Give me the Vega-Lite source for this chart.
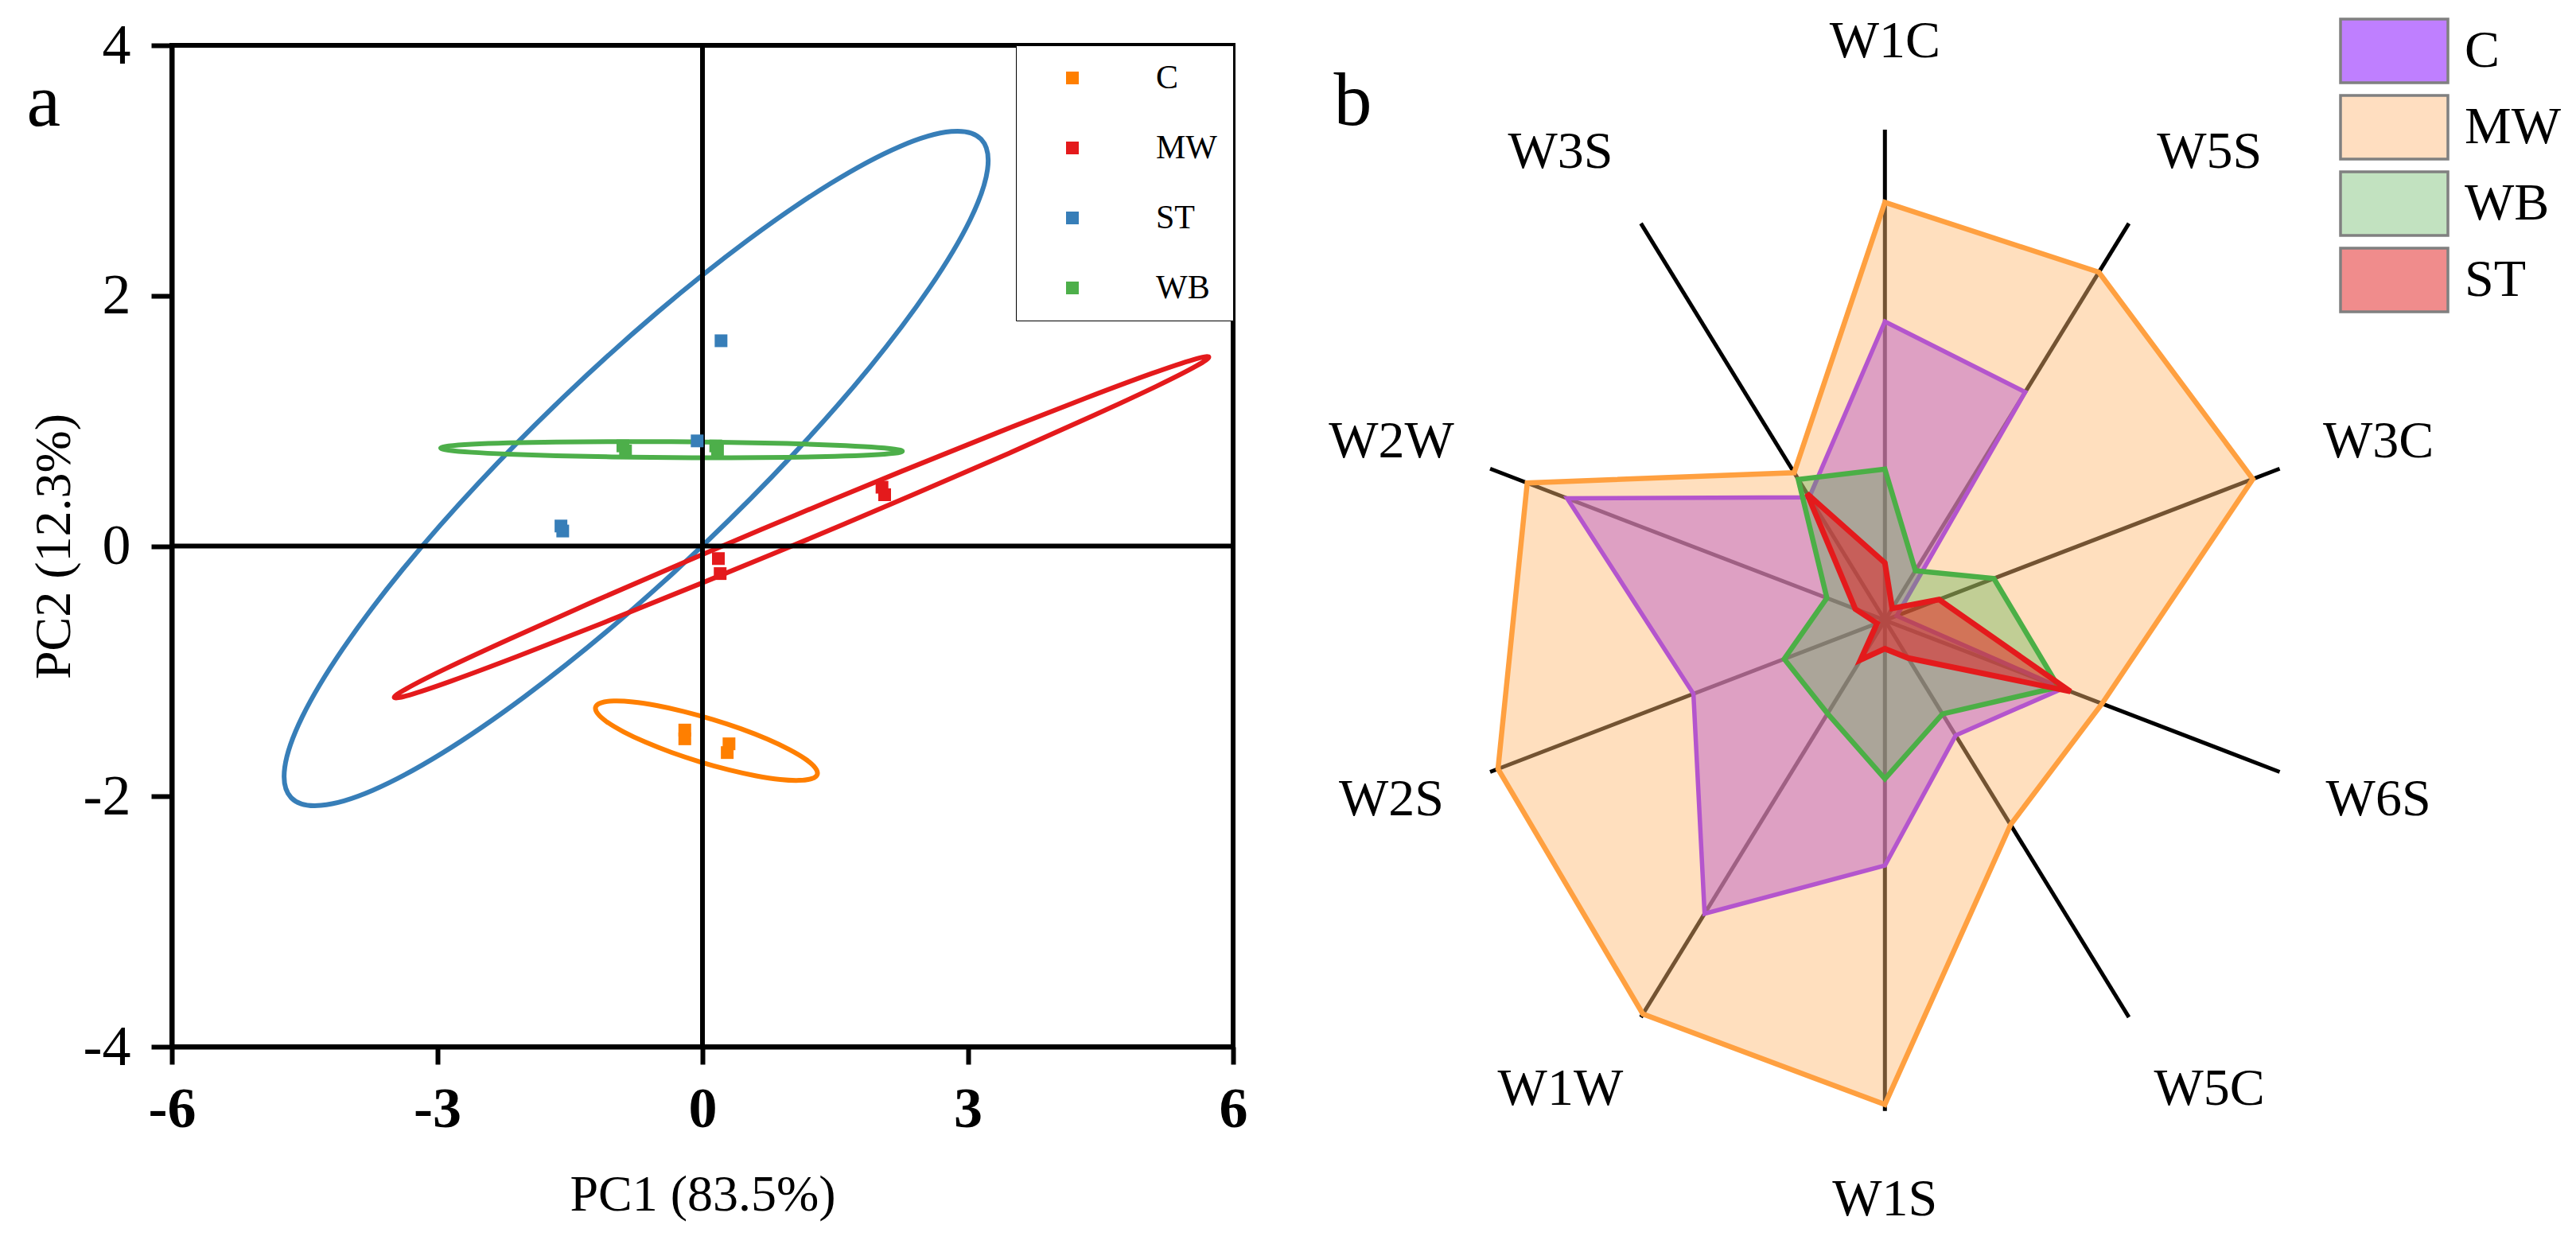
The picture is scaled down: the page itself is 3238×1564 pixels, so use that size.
{
  "$schema": "https://vega.github.io/schema/vega-lite/v6.json",
  "background": "white",
  "padding": {"left": 30, "top": 18, "right": 0, "bottom": 0},
  "spacing": 99,
  "config": {
    "font": "Liberation Serif",
    "view": {"stroke": null},
    "axis": {"labelFont": "Liberation Serif", "titleFont": "Liberation Serif", "labelColor": "black", "titleColor": "black"},
    "legend": {"labelFont": "Liberation Serif", "labelColor": "black"},
    "title": {"font": "Liberation Serif", "fontWeight": "normal", "color": "black"}
  },
  "resolve": {"scale": {"x": "independent", "y": "independent", "color": "independent", "fill": "independent"}, "legend": {"color": "independent", "fill": "independent"}},
  "datasets": {
    "pca_points": [
      {"group": "C", "pc1": -0.2, "pc2": -1.47}, {"group": "C", "pc1": -0.2, "pc2": -1.54}, {"group": "C", "pc1": 0.3, "pc2": -1.58}, {"group": "C", "pc1": 0.28, "pc2": -1.65},
      {"group": "MW", "pc1": 2.03, "pc2": 0.47}, {"group": "MW", "pc1": 2.06, "pc2": 0.41}, {"group": "MW", "pc1": 0.18, "pc2": -0.1}, {"group": "MW", "pc1": 0.2, "pc2": -0.22},
      {"group": "ST", "pc1": 0.21, "pc2": 1.64}, {"group": "ST", "pc1": -1.58, "pc2": 0.12}, {"group": "ST", "pc1": -1.6, "pc2": 0.16}, {"group": "ST", "pc1": -0.06, "pc2": 0.84},
      {"group": "WB", "pc1": -0.9, "pc2": 0.8}, {"group": "WB", "pc1": -0.87, "pc2": 0.76}, {"group": "WB", "pc1": 0.15, "pc2": 0.8}, {"group": "WB", "pc1": 0.17, "pc2": 0.76}
    ],
    "pca_ellipses": [
      {"group": "ST", "i": 0, "pc1": 3.151, "pc2": 3.25}, {"group": "ST", "i": 1, "pc1": 2.813, "pc2": 3.312}, {"group": "ST", "i": 2, "pc1": 2.231, "pc2": 3.192}, {"group": "ST", "i": 3, "pc1": 1.447, "pc2": 2.896},
      {"group": "ST", "i": 4, "pc1": 0.513, "pc2": 2.444}, {"group": "ST", "i": 5, "pc1": -0.507, "pc2": 1.869}, {"group": "ST", "i": 6, "pc1": -1.544, "pc2": 1.208}, {"group": "ST", "i": 7, "pc1": -2.527, "pc2": 0.507},
      {"group": "ST", "i": 8, "pc1": -3.389, "pc2": -0.186}, {"group": "ST", "i": 9, "pc1": -4.069, "pc2": -0.824}, {"group": "ST", "i": 10, "pc1": -4.525, "pc2": -1.364}, {"group": "ST", "i": 11, "pc1": -4.723, "pc2": -1.768},
      {"group": "ST", "i": 12, "pc1": -4.651, "pc2": -2.01}, {"group": "ST", "i": 13, "pc1": -4.313, "pc2": -2.072}, {"group": "ST", "i": 14, "pc1": -3.731, "pc2": -1.952}, {"group": "ST", "i": 15, "pc1": -2.947, "pc2": -1.656},
      {"group": "ST", "i": 16, "pc1": -2.013, "pc2": -1.204}, {"group": "ST", "i": 17, "pc1": -0.993, "pc2": -0.629}, {"group": "ST", "i": 18, "pc1": 0.044, "pc2": 0.032}, {"group": "ST", "i": 19, "pc1": 1.027, "pc2": 0.733},
      {"group": "ST", "i": 20, "pc1": 1.889, "pc2": 1.426}, {"group": "ST", "i": 21, "pc1": 2.569, "pc2": 2.064}, {"group": "ST", "i": 22, "pc1": 3.025, "pc2": 2.604}, {"group": "ST", "i": 23, "pc1": 3.223, "pc2": 3.008},
      {"group": "MW", "i": 0, "pc1": 5.725, "pc2": 1.51}, {"group": "MW", "i": 1, "pc1": 5.553, "pc2": 1.49}, {"group": "MW", "i": 2, "pc1": 5.078, "pc2": 1.378}, {"group": "MW", "i": 3, "pc1": 4.334, "pc2": 1.182},
      {"group": "MW", "i": 4, "pc1": 3.372, "pc2": 0.916}, {"group": "MW", "i": 5, "pc1": 2.255, "pc2": 0.598}, {"group": "MW", "i": 6, "pc1": 1.061, "pc2": 0.25}, {"group": "MW", "i": 7, "pc1": -0.129, "pc2": -0.106},
      {"group": "MW", "i": 8, "pc1": -1.234, "pc2": -0.444}, {"group": "MW", "i": 9, "pc1": -2.178, "pc2": -0.742}, {"group": "MW", "i": 10, "pc1": -2.898, "pc2": -0.978}, {"group": "MW", "i": 11, "pc1": -3.343, "pc2": -1.138},
      {"group": "MW", "i": 12, "pc1": -3.485, "pc2": -1.21}, {"group": "MW", "i": 13, "pc1": -3.313, "pc2": -1.19}, {"group": "MW", "i": 14, "pc1": -2.838, "pc2": -1.078}, {"group": "MW", "i": 15, "pc1": -2.094, "pc2": -0.882},
      {"group": "MW", "i": 16, "pc1": -1.132, "pc2": -0.616}, {"group": "MW", "i": 17, "pc1": -0.015, "pc2": -0.298}, {"group": "MW", "i": 18, "pc1": 1.179, "pc2": 0.05}, {"group": "MW", "i": 19, "pc1": 2.369, "pc2": 0.406},
      {"group": "MW", "i": 20, "pc1": 3.474, "pc2": 0.744}, {"group": "MW", "i": 21, "pc1": 4.418, "pc2": 1.042}, {"group": "MW", "i": 22, "pc1": 5.138, "pc2": 1.278}, {"group": "MW", "i": 23, "pc1": 5.583, "pc2": 1.438},
      {"group": "WB", "i": 0, "pc1": 2.26, "pc2": 0.7575}, {"group": "WB", "i": 1, "pc1": 2.171, "pc2": 0.774}, {"group": "WB", "i": 2, "pc1": 1.91, "pc2": 0.791}, {"group": "WB", "i": 3, "pc1": 1.496, "pc2": 0.806},
      {"group": "WB", "i": 4, "pc1": 0.955, "pc2": 0.819}, {"group": "WB", "i": 5, "pc1": 0.325, "pc2": 0.828}, {"group": "WB", "i": 6, "pc1": -0.35, "pc2": 0.8335}, {"group": "WB", "i": 7, "pc1": -1.025, "pc2": 0.8345},
      {"group": "WB", "i": 8, "pc1": -1.655, "pc2": 0.831}, {"group": "WB", "i": 9, "pc1": -2.196, "pc2": 0.824}, {"group": "WB", "i": 10, "pc1": -2.61, "pc2": 0.813}, {"group": "WB", "i": 11, "pc1": -2.871, "pc2": 0.7985},
      {"group": "WB", "i": 12, "pc1": -2.96, "pc2": 0.7825}, {"group": "WB", "i": 13, "pc1": -2.871, "pc2": 0.766}, {"group": "WB", "i": 14, "pc1": -2.61, "pc2": 0.749}, {"group": "WB", "i": 15, "pc1": -2.196, "pc2": 0.734},
      {"group": "WB", "i": 16, "pc1": -1.655, "pc2": 0.7207}, {"group": "WB", "i": 17, "pc1": -1.025, "pc2": 0.712}, {"group": "WB", "i": 18, "pc1": -0.35, "pc2": 0.7065}, {"group": "WB", "i": 19, "pc1": 0.325, "pc2": 0.7055},
      {"group": "WB", "i": 20, "pc1": 0.955, "pc2": 0.709}, {"group": "WB", "i": 21, "pc1": 1.496, "pc2": 0.716}, {"group": "WB", "i": 22, "pc1": 1.91, "pc2": 0.727}, {"group": "WB", "i": 23, "pc1": 2.171, "pc2": 0.7414},
      {"group": "C", "i": 0, "pc1": 1.298, "pc2": -1.824}, {"group": "C", "i": 1, "pc1": 1.274, "pc2": -1.771}, {"group": "C", "i": 2, "pc1": 1.166, "pc2": -1.703}, {"group": "C", "i": 3, "pc1": 0.982, "pc2": -1.626},
      {"group": "C", "i": 4, "pc1": 0.734, "pc2": -1.543}, {"group": "C", "i": 5, "pc1": 0.439, "pc2": -1.461}, {"group": "C", "i": 6, "pc1": 0.118, "pc2": -1.386}, {"group": "C", "i": 7, "pc1": -0.209, "pc2": -1.322},
      {"group": "C", "i": 8, "pc1": -0.518, "pc2": -1.274}, {"group": "C", "i": 9, "pc1": -0.789, "pc2": -1.245}, {"group": "C", "i": 10, "pc1": -1.004, "pc2": -1.238}, {"group": "C", "i": 11, "pc1": -1.146, "pc2": -1.252},
      {"group": "C", "i": 12, "pc1": -1.208, "pc2": -1.286}, {"group": "C", "i": 13, "pc1": -1.184, "pc2": -1.339}, {"group": "C", "i": 14, "pc1": -1.076, "pc2": -1.407}, {"group": "C", "i": 15, "pc1": -0.892, "pc2": -1.484},
      {"group": "C", "i": 16, "pc1": -0.644, "pc2": -1.567}, {"group": "C", "i": 17, "pc1": -0.349, "pc2": -1.649}, {"group": "C", "i": 18, "pc1": -0.028, "pc2": -1.724}, {"group": "C", "i": 19, "pc1": 0.299, "pc2": -1.788},
      {"group": "C", "i": 20, "pc1": 0.608, "pc2": -1.836}, {"group": "C", "i": 21, "pc1": 0.879, "pc2": -1.865}, {"group": "C", "i": 22, "pc1": 1.094, "pc2": -1.872}, {"group": "C", "i": 23, "pc1": 1.236, "pc2": -1.858}
    ],
    "radar_axes": [
      {"a": "W1C", "k": 0}, {"a": "W5S", "k": 1}, {"a": "W3C", "k": 2}, {"a": "W6S", "k": 3}, {"a": "W5C", "k": 4},
      {"a": "W1S", "k": 5}, {"a": "W1W", "k": 6}, {"a": "W2S", "k": 7}, {"a": "W2W", "k": 8}, {"a": "W3S", "k": 9}
    ],
    "radar": [
      {"g": "MW", "a": "W1C", "k": 0, "v": 0.852}, {"g": "MW", "a": "W5S", "k": 1, "v": 0.877}, {"g": "MW", "a": "W3C", "k": 2, "v": 0.932}, {"g": "MW", "a": "W6S", "k": 3, "v": 0.55}, {"g": "MW", "a": "W5C", "k": 4, "v": 0.515},
      {"g": "MW", "a": "W1S", "k": 5, "v": 0.987}, {"g": "MW", "a": "W1W", "k": 6, "v": 0.992}, {"g": "MW", "a": "W2S", "k": 7, "v": 0.98}, {"g": "MW", "a": "W2W", "k": 8, "v": 0.906}, {"g": "MW", "a": "W3S", "k": 9, "v": 0.372},
      {"g": "C", "a": "W1C", "k": 0, "v": 0.609}, {"g": "C", "a": "W5S", "k": 1, "v": 0.575}, {"g": "C", "a": "W3C", "k": 2, "v": 0.03}, {"g": "C", "a": "W6S", "k": 3, "v": 0.45}, {"g": "C", "a": "W5C", "k": 4, "v": 0.29},
      {"g": "C", "a": "W1S", "k": 5, "v": 0.5}, {"g": "C", "a": "W1W", "k": 6, "v": 0.739}, {"g": "C", "a": "W2S", "k": 7, "v": 0.485}, {"g": "C", "a": "W2W", "k": 8, "v": 0.805}, {"g": "C", "a": "W3S", "k": 9, "v": 0.31},
      {"g": "WB", "a": "W1C", "k": 0, "v": 0.308}, {"g": "WB", "a": "W5S", "k": 1, "v": 0.125}, {"g": "WB", "a": "W3C", "k": 2, "v": 0.276}, {"g": "WB", "a": "W6S", "k": 3, "v": 0.44}, {"g": "WB", "a": "W5C", "k": 4, "v": 0.236},
      {"g": "WB", "a": "W1S", "k": 5, "v": 0.323}, {"g": "WB", "a": "W1W", "k": 6, "v": 0.235}, {"g": "WB", "a": "W2S", "k": 7, "v": 0.255}, {"g": "WB", "a": "W2W", "k": 8, "v": 0.147}, {"g": "WB", "a": "W3S", "k": 9, "v": 0.355},
      {"g": "ST", "a": "W1C", "k": 0, "v": 0.117}, {"g": "ST", "a": "W5S", "k": 1, "v": 0.03}, {"g": "ST", "a": "W3C", "k": 2, "v": 0.137}, {"g": "ST", "a": "W6S", "k": 3, "v": 0.47}, {"g": "ST", "a": "W5C", "k": 4, "v": 0.095},
      {"g": "ST", "a": "W1S", "k": 5, "v": 0.058}, {"g": "ST", "a": "W1W", "k": 6, "v": 0.1}, {"g": "ST", "a": "W2S", "k": 7, "v": 0.02}, {"g": "ST", "a": "W2W", "k": 8, "v": 0.075}, {"g": "ST", "a": "W3S", "k": 9, "v": 0.319}
    ]
  },
  "hconcat": [
    {
      "width": 1334,
      "height": 1259,
      "view": {"stroke": "black", "strokeWidth": 6},
      "layer": [
        {
          "data": {"name": "pca_ellipses"},
          "mark": {"type": "line", "interpolate": "cardinal-closed", "strokeWidth": 6},
          "encoding": {
            "x": {"field": "pc1", "type": "quantitative", "scale": {"domain": [-6, 6], "nice": false, "zero": false},
              "axis": {"values": [-6, -3, 0, 3, 6], "labelExpr": "'' + datum.value", "title": "PC1 (83.5%)", "titleFontSize": 64, "titleFontWeight": "normal", "titlePadding": 40,
                "labelFontSize": 72, "labelFontWeight": "bold", "labelPadding": 21, "labelFlush": false, "labelOverlap": false,
                "tickSize": 22, "tickWidth": 6, "tickColor": "black", "domainColor": "black", "domainWidth": 6, "grid": false}},
            "y": {"field": "pc2", "type": "quantitative", "scale": {"domain": [-4, 4], "nice": false, "zero": false},
              "axis": {"values": [-4, -2, 0, 2, 4], "labelExpr": "'' + datum.value", "title": "PC2 (12.3%)", "titleFontSize": 64, "titleFontWeight": "normal", "titlePadding": 4,
                "labelFontSize": 72, "labelFontWeight": "normal", "labelPadding": 26, "labelFlush": false, "labelOverlap": false,
                "tickSize": 26, "tickWidth": 6, "tickColor": "black", "domainColor": "black", "domainWidth": 6, "grid": false}},
            "stroke": {"field": "group", "type": "nominal", "scale": {"domain": ["C", "MW", "ST", "WB"], "range": ["#FF7F00", "#E41A1C", "#377EB8", "#4DAF4A"]}, "legend": null},
            "order": {"field": "i", "type": "quantitative"}
          }
        },
        {
          "data": {"values": [{"z": 0}]},
          "mark": {"type": "rule", "color": "black", "strokeWidth": 6},
          "encoding": {"x": {"field": "z", "type": "quantitative"}}
        },
        {
          "data": {"values": [{"z": 0}]},
          "mark": {"type": "rule", "color": "black", "strokeWidth": 6},
          "encoding": {"y": {"field": "z", "type": "quantitative"}}
        },
        {
          "data": {"name": "pca_points"},
          "mark": {"type": "square", "size": 256, "filled": true, "opacity": 1},
          "encoding": {
            "x": {"field": "pc1", "type": "quantitative"},
            "y": {"field": "pc2", "type": "quantitative"},
            "color": {"field": "group", "type": "nominal", "scale": {"domain": ["C", "MW", "ST", "WB"], "range": ["#FF7F00", "#E41A1C", "#377EB8", "#4DAF4A"]},
              "legend": {"orient": "top-right", "offset": 0, "title": null, "symbolType": "square", "symbolSize": 256, "symbolOpacity": 1,
                "labelFontSize": 42, "strokeColor": "black", "fillColor": "white", "padding": 20, "rowPadding": 46, "symbolOffset": 30, "labelOffset": 84}}
          }
        },
        {
          "data": {"values": [{"t": "a"}]},
          "mark": {"type": "text", "fontSize": 96, "font": "Liberation Serif", "align": "center", "baseline": "alphabetic", "color": "black"},
          "encoding": {
            "x": {"datum": -7.45, "type": "quantitative"},
            "y": {"datum": 3.36, "type": "quantitative"},
            "text": {"field": "t"}
          }
        }
      ]
    },
    {
      "width": 1534,
      "height": 1463,
      "view": {"stroke": null},
      "layer": [
        {
          "data": {"name": "radar_axes"},
          "transform": [
            {"calculate": "0", "as": "c0"},
            {"calculate": "sin(datum.k*PI/5)", "as": "ex"},
            {"calculate": "cos(datum.k*PI/5)", "as": "ey"}
          ],
          "mark": {"type": "rule", "color": "black", "strokeWidth": 5},
          "encoding": {
            "x": {"field": "c0", "type": "quantitative", "scale": {"domain": [-1.3, 1.64], "nice": false, "zero": false}, "axis": null},
            "y": {"field": "c0", "type": "quantitative", "scale": {"domain": [-1.2, 1.172], "nice": false, "zero": false}, "axis": null},
            "x2": {"field": "ex"},
            "y2": {"field": "ey"}
          }
        },
        {
          "data": {"name": "radar"},
          "transform": [
            {"filter": "datum.g === 'MW'"},
            {"calculate": "datum.v*sin(datum.k*PI/5)", "as": "px"},
            {"calculate": "datum.v*cos(datum.k*PI/5)", "as": "py"}
          ],
          "mark": {"type": "line", "interpolate": "linear-closed", "fill": "#FFB86F", "fillOpacity": 0.45, "stroke": "#FFA040", "strokeWidth": 6.5, "strokeJoin": "miter"},
          "encoding": {"x": {"field": "px", "type": "quantitative"}, "y": {"field": "py", "type": "quantitative"}, "order": {"field": "k", "type": "quantitative"}}
        },
        {
          "data": {"name": "radar"},
          "transform": [
            {"filter": "datum.g === 'C'"},
            {"calculate": "datum.v*sin(datum.k*PI/5)", "as": "px"},
            {"calculate": "datum.v*cos(datum.k*PI/5)", "as": "py"}
          ],
          "mark": {"type": "line", "interpolate": "linear-closed", "fill": "#C36CC7", "fillOpacity": 0.55, "stroke": "#B455CD", "strokeWidth": 5.5, "strokeJoin": "miter"},
          "encoding": {"x": {"field": "px", "type": "quantitative"}, "y": {"field": "py", "type": "quantitative"}, "order": {"field": "k", "type": "quantitative"}}
        },
        {
          "data": {"name": "radar"},
          "transform": [
            {"filter": "datum.g === 'WB'"},
            {"calculate": "datum.v*sin(datum.k*PI/5)", "as": "px"},
            {"calculate": "datum.v*cos(datum.k*PI/5)", "as": "py"}
          ],
          "mark": {"type": "line", "interpolate": "linear-closed", "fill": "#4DAF4A", "fillOpacity": 0.35, "stroke": "#4BAF46", "strokeWidth": 6.5, "strokeJoin": "miter"},
          "encoding": {"x": {"field": "px", "type": "quantitative"}, "y": {"field": "py", "type": "quantitative"}, "order": {"field": "k", "type": "quantitative"}}
        },
        {
          "data": {"name": "radar"},
          "transform": [
            {"filter": "datum.g === 'ST'"},
            {"calculate": "datum.v*sin(datum.k*PI/5)", "as": "px"},
            {"calculate": "datum.v*cos(datum.k*PI/5)", "as": "py"}
          ],
          "mark": {"type": "line", "interpolate": "linear-closed", "fill": "#E41A1C", "fillOpacity": 0.5, "stroke": "#E41A1C", "strokeWidth": 7, "strokeJoin": "miter"},
          "encoding": {"x": {"field": "px", "type": "quantitative"}, "y": {"field": "py", "type": "quantitative"}, "order": {"field": "k", "type": "quantitative"}}
        },
        {
          "data": {"name": "radar_axes"},
          "transform": [
            {"calculate": "(abs(sin(datum.k*PI/5)) < 0.9 ? 1.33 : 1.25) * sin(datum.k*PI/5)", "as": "lx"},
            {"calculate": "1.18*cos(datum.k*PI/5)", "as": "ly"}
          ],
          "mark": {"type": "text", "fontSize": 66, "font": "Liberation Serif", "align": "center", "baseline": "middle", "color": "black"},
          "encoding": {"x": {"field": "lx", "type": "quantitative"}, "y": {"field": "ly", "type": "quantitative"}, "text": {"field": "a"}}
        },
        {
          "data": {"values": [{"t": "b"}]},
          "mark": {"type": "text", "fontSize": 96, "font": "Liberation Serif", "align": "center", "baseline": "alphabetic", "color": "black"},
          "encoding": {
            "x": {"datum": -1.282, "type": "quantitative"},
            "y": {"datum": 1.01, "type": "quantitative"},
            "text": {"field": "t"}
          }
        },
        {
          "data": {"name": "radar"},
          "transform": [{"filter": "datum.k === 0"}],
          "mark": {"type": "point", "filled": true, "opacity": 0},
          "encoding": {
            "x": {"field": "v", "type": "quantitative"},
            "y": {"field": "v", "type": "quantitative"},
            "fill": {"field": "g", "type": "nominal", "scale": {"domain": ["C", "MW", "WB", "ST"], "range": ["#BF7FFF", "#FFDEC0", "#C2E2C0", "#F08C8C"]},
              "legend": {"orient": "none", "legendX": 1249, "legendY": -35, "title": null, "symbolType": "M-1,-0.593H1V0.593H-1Z", "symbolSize": 18225,
                "symbolOpacity": 1, "symbolStrokeColor": "#808080", "symbolStrokeWidth": 3.5, "labelFontSize": 66, "labelOffset": 19, "rowPadding": 12, "clipHeight": 84, "padding": 0}}
          }
        }
      ]
    }
  ]
}
